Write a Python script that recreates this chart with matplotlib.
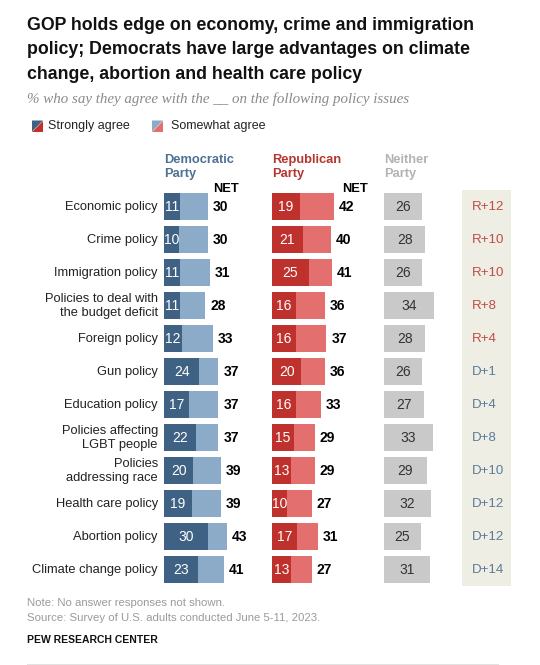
import matplotlib
matplotlib.use("Agg")
import matplotlib.pyplot as plt
from matplotlib.patches import Polygon
from matplotlib.lines import Line2D

plt.rcParams['font.family'] = ['Liberation Sans', 'DejaVu Sans']

categories = ["Economic policy", "Crime policy", "Immigration policy",
              "Policies to deal with\nthe budget deficit", "Foreign policy", "Gun policy",
              "Education policy", "Policies affecting\nLGBT people", "Policies\naddressing race",
              "Health care policy", "Abortion policy", "Climate change policy"]
dem_strong = [11, 10, 11, 11, 12, 24, 17, 22, 20, 19, 30, 23]
dem_net = [30, 30, 31, 28, 33, 37, 37, 37, 39, 39, 43, 41]
rep_strong = [19, 21, 25, 16, 16, 20, 16, 15, 13, 10, 17, 13]
rep_net = [42, 40, 41, 36, 37, 36, 33, 29, 29, 27, 31, 27]
neither = [26, 28, 26, 34, 28, 26, 27, 33, 29, 32, 25, 31]
diff = ["R+12", "R+10", "R+10", "R+8", "R+4", "D+1", "D+4", "D+8", "D+10", "D+12", "D+12", "D+14"]

W, H = 540, 665
fig = plt.figure(figsize=(W / 100, H / 100), dpi=100)

DEM_S, DEM_W = "#3f6183", "#8cabc8"
REP_S, REP_W = "#bf312c", "#e36f6e"
GRAY = "#c9c9c9"
DIFF_BG = "#efeee5"
R_TXT, D_TXT = "#bf4d45", "#5b7c98"

pxu = 1.47  # pixels per percentage point
n = len(categories)
row_top, row_gap = 206.7, 33.0
y_top = row_top - row_gap / 2
y_bot = row_top + row_gap * (n - 0.5)
fb = 1 - y_bot / H
fh = (y_bot - y_top) / H
XMAX = 50


def make_ax(xpx):
    ax = fig.add_axes([xpx / W, fb, XMAX * pxu / W, fh])
    ax.set_xlim(0, XMAX)
    ax.set_ylim(n - 0.5, -0.5)
    ax.axis('off')
    return ax


ys = list(range(n))
bh = 0.82
fs = 9.3
nfs = 10.0
hy = -1.2

ax_d = make_ax(164)
ax_d.barh(ys, dem_net, height=bh, color=DEM_W)
ax_d.barh(ys, dem_strong, height=bh, color=DEM_S)
for i in ys:
    ax_d.text(dem_strong[i] / 2, i, str(dem_strong[i]), color="white", ha='center', va='center', fontsize=nfs)
    ax_d.annotate(str(dem_net[i]), (dem_net[i], i), xytext=(3.5, 0), textcoords='offset points',
                  ha='left', va='center', fontsize=nfs, fontweight='bold', color="black")
    ax_d.text(-0.085, i, categories[i], transform=ax_d.get_yaxis_transform(), ha='right', va='center',
              fontsize=fs, color="#222222", linespacing=1.25)
ax_d.text(0, hy, "Democratic\nParty", transform=ax_d.get_yaxis_transform(), ha='left', va='center',
          fontsize=9.3, fontweight='bold', color="#4d7193", linespacing=1.3)
ax_d.text(33.5, -0.55, "NET", ha='left', va='center', fontsize=fs, fontweight='bold', color="black")

ax_r = make_ax(272)
ax_r.barh(ys, rep_net, height=bh, color=REP_W)
ax_r.barh(ys, rep_strong, height=bh, color=REP_S)
for i in ys:
    ax_r.text(rep_strong[i] / 2, i, str(rep_strong[i]), color="white", ha='center', va='center', fontsize=nfs)
    ax_r.annotate(str(rep_net[i]), (rep_net[i], i), xytext=(3.5, 0), textcoords='offset points',
                  ha='left', va='center', fontsize=nfs, fontweight='bold', color="black")
ax_r.text(0, hy, "Republican\nParty", transform=ax_r.get_yaxis_transform(), ha='left', va='center',
          fontsize=9.3, fontweight='bold', color="#b5352f", linespacing=1.3)
ax_r.text(47.6, -0.55, "NET", ha='left', va='center', fontsize=fs, fontweight='bold', color="black")

ax_n = make_ax(384)
ax_n.barh(ys, neither, height=bh, color=GRAY)
for i in ys:
    ax_n.text(neither[i] / 2, i, str(neither[i]), color="#333333", ha='center', va='center', fontsize=nfs)
ax_n.text(0, hy, "Neither\nParty", transform=ax_n.get_yaxis_transform(), ha='left', va='center',
          fontsize=9.3, fontweight='bold', color="#b3b3b3", linespacing=1.3)

ax_x = fig.add_axes([461.7 / W, fb, 49 / W, fh])
ax_x.set_xlim(0, 1)
ax_x.set_ylim(n - 0.5, -0.5)
ax_x.set_facecolor(DIFF_BG)
ax_x.set_xticks([]); ax_x.set_yticks([])
for s in ax_x.spines.values():
    s.set_visible(False)
for i in ys:
    ax_x.text(0.2, i, diff[i], ha='left', va='center', fontsize=9.6,
              color=R_TXT if diff[i].startswith("R") else D_TXT)

# Title & subtitle
title = ("GOP holds edge on economy, crime and immigration\n"
         "policy; Democrats have large advantages on climate\n"
         "change, abortion and health care policy")
fig.text(27 / W, 1 - 17 / H, title, ha='left', va='top', fontsize=12.75, fontweight='bold',
         color="#111111", linespacing=1.57)
fig.text(27 / W, 1 - 99 / H, "% who say they agree with the __ on the following policy issues",
         ha='left', va='center', fontsize=10.85, style='italic', family=['Liberation Serif', 'DejaVu Serif'],
         color="#8a8a8a")

# Legend
def legend_square(x0, c1, c2):
    y0, s = 120.5, 11
    pts_a = [(x0, y0), (x0 + s, y0), (x0, y0 + s)]
    pts_b = [(x0 + s, y0), (x0 + s, y0 + s), (x0, y0 + s)]
    for pts, c in ((pts_a, c1), (pts_b, c2)):
        fig.add_artist(Polygon([(x / W, 1 - y / H) for x, y in pts], closed=True,
                               transform=fig.transFigure, facecolor=c, edgecolor='none'))

legend_square(32, DEM_S, REP_S)
fig.text(48 / W, 1 - 126 / H, "Strongly agree", ha='left', va='center', fontsize=9.0, color="#222222")
legend_square(152, DEM_W, REP_W)
fig.text(171 / W, 1 - 126 / H, "Somewhat agree", ha='left', va='center', fontsize=9.0, color="#222222")

# Footer
fig.text(27 / W, 1 - 603 / H, "Note: No answer responses not shown.", ha='left', va='center',
         fontsize=8.2, color="#9a9a9a")
fig.text(27 / W, 1 - 618 / H, "Source: Survey of U.S. adults conducted June 5-11, 2023.", ha='left',
         va='center', fontsize=8.2, color="#9a9a9a")
fig.text(27 / W, 1 - 640 / H, "PEW RESEARCH CENTER", ha='left', va='center', fontsize=7.5,
         fontweight='bold', color="#111111")
fig.add_artist(Line2D([27 / W, 498 / W], [1 - 663.5 / H, 1 - 663.5 / H], transform=fig.transFigure,
                      color="#e2e2e2", lw=0.8))

fig.savefig("out.png", dpi=100)
